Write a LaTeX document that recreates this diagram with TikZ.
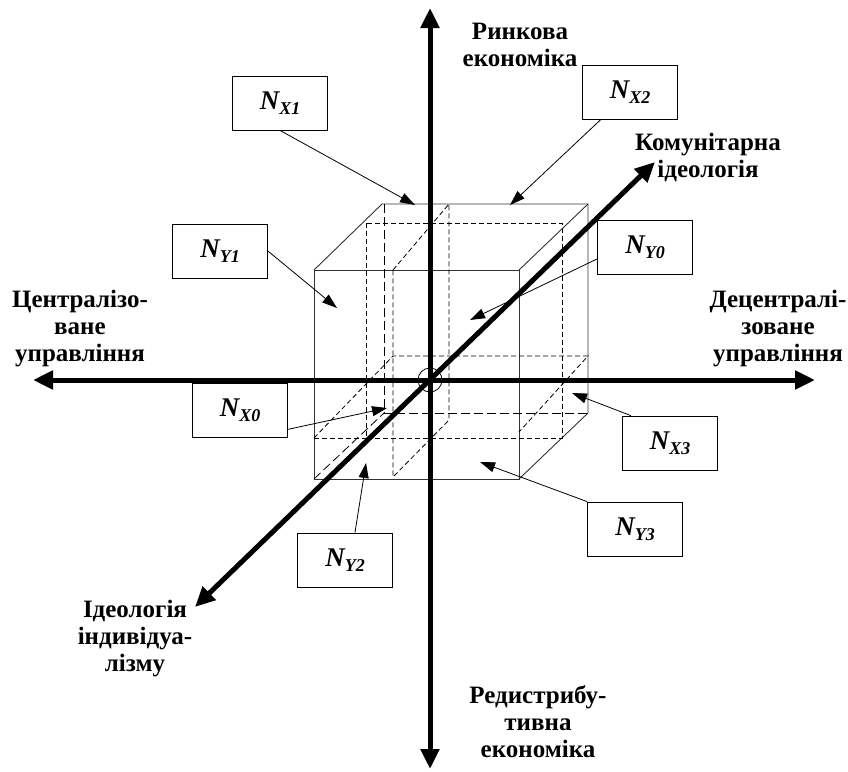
\documentclass[tikz,border=0pt]{standalone}
\usepackage{fontspec}
\setmainfont{Liberation Serif}
\usetikzlibrary{arrows.meta}

\tikzset{
  axis/.style={line width=5pt, {Triangle[length=20pt,width=18pt]}-{Triangle[length=20pt,width=18pt]}},
  edge/.style={line width=0.9pt, black!80},
  hidl/.style={line width=0.8pt, dash pattern=on 9pt off 4pt},
  hids/.style={line width=0.8pt, dash pattern=on 5pt off 3pt},
  nbox/.style={draw, line width=0.8pt, minimum width=95pt, minimum height=54pt, inner sep=0pt},
  ptr/.style={line width=0.8pt, -{Triangle[length=15pt,width=10pt]}},
  lbl/.style={align=center, font=\fontsize{25}{27}\selectfont\bfseries},
}
\newcommand{\nlab}[1]{\textit{\bfseries\fontsize{27}{27}\selectfont N\raisebox{-5pt}{\fontsize{18}{18}\selectfont #1}}}

\begin{document}
\begin{tikzpicture}[x=1pt, y=-1pt]
    \useasboundingbox (0,0) rectangle (848,771);

    % куб: видимі ребра
    \draw[edge] (314,270) rectangle (519,479);
    \draw[edge] (314,270) -- (382,204) -- (588,204) -- (588,413) -- (519,479);
    \draw[edge] (519,270) -- (588,204);

    % невидимі ребра
    \draw[hidl] (384,204) -- (384,413) -- (588,413);
    \draw[hidl] (314,479) -- (384,413);

    % перерізи куба
    \draw[hids] (366,223) rectangle (562,438);
    \draw[hids] (314,438) -- (366,438);
    \draw[hids] (314,438) -- (393,356) -- (588,356) -- (519,432);
    \draw[hids] (393,270) -- (449,204) -- (449,420) -- (393,477) -- cycle;

    % осі
    \coordinate (ytop) at (430,8);
    \coordinate (ybot) at (430,769);
    \coordinate (xl) at (33,380);
    \coordinate (xr) at (815,380);
    \coordinate (zl) at (195,607);
    \coordinate (zr) at (655,162);
    \draw[axis] (ybot) -- (ytop);
    \draw[axis] (xl) -- (xr);
    \draw[axis] (zl) -- (zr);
    \draw[line width=0.8pt] (430,380) circle (12pt);

    % підписи осей
    \node[lbl] (mkt) at (520,45) {Ринкова\\економіка};
    \node[lbl] (redis) at (538,722) {Редистрибу-\\тивна\\економіка};
    \node[lbl] (cent) at (80,329) {Централізо-\\ване\\управління};
    \node[lbl] (decent) at (778,329) {Децентралі-\\зоване\\управління};
    \node[lbl] (comm) at (708,157) {Комунітарна\\ідеологія};
    \node[lbl] (indiv) at (135,639) {Ідеологія\\індивідуа-\\лізму};

    % блоки N
    \node[nbox] (nx1) at (280,103) {\nlab{X1}};
    \node[nbox] (nx2) at (630,92) {\nlab{X2}};
    \node[nbox] (ny1) at (220,251) {\nlab{Y1}};
    \node[nbox] (ny0) at (645,247) {\nlab{Y0}};
    \node[nbox] (nx0) at (240,410) {\nlab{X0}};
    \node[nbox] (nx3) at (670,443) {\nlab{X3}};
    \node[nbox] (ny3) at (635,529) {\nlab{Y3}};
    \node[nbox] (ny2) at (345,560) {\nlab{Y2}};

    % стрілки до частин куба
    \coordinate (px1) at (415,205);
    \coordinate (px2) at (510,205);
    \coordinate (py1) at (337,308);
    \coordinate (py0) at (470,320);
    \coordinate (px0) at (387,408);
    \coordinate (px3) at (572,393);
    \coordinate (py3) at (480,462);
    \coordinate (py2) at (366,463);
    \draw[ptr] (nx1.south) -- (px1);
    \draw[ptr] (nx2) -- (px2);
    \draw[ptr] (ny1.east) -- (py1);
    \draw[ptr] (ny0.194) -- (py0);
    \draw[ptr] (nx0.-22) -- (px0);
    \draw[ptr] (nx3.145) -- (px3);
    \draw[ptr] (ny3.north west) -- (py3);
    \draw[ptr] (ny2.70) -- (py2);
\end{tikzpicture}
\end{document}
